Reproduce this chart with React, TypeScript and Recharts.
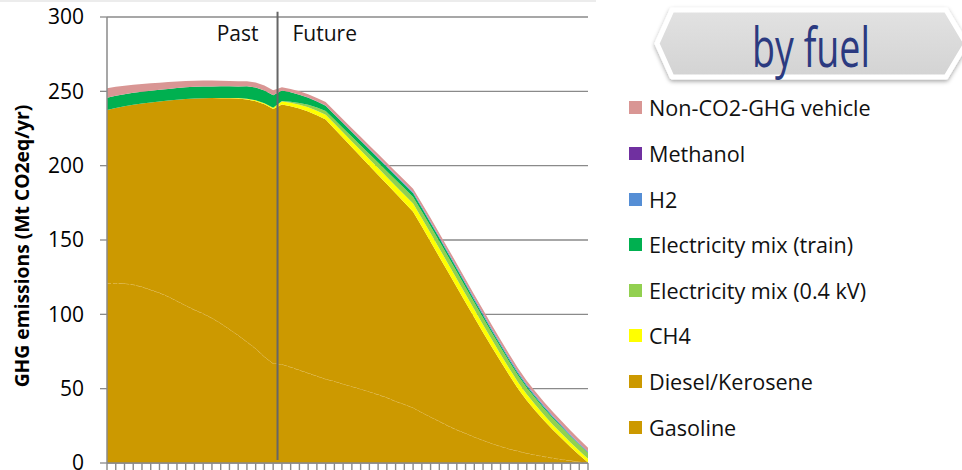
import React from "react";
import {
  AreaChart,
  Area,
  XAxis,
  YAxis,
  CartesianGrid,
  ReferenceLine,
  Legend,
} from "recharts";

const FONT = "'Open Sans', 'DejaVu Sans', sans-serif";
const AXIS_GREY = "#8a8a8a";

const years = [
  1990, 1991, 1992, 1993, 1994, 1995, 1996, 1997, 1998, 1999,
  2000, 2001, 2002, 2003, 2004, 2005, 2006, 2007, 2008, 2009,
  2010, 2011, 2012, 2013, 2014, 2015, 2016, 2017, 2018, 2019,
  2020, 2021, 2022, 2023, 2024, 2025, 2026, 2027, 2028, 2029,
  2030, 2031, 2032, 2033, 2034, 2035, 2036, 2037, 2038, 2039,
  2040, 2041, 2042, 2043, 2044, 2045,
];

const yTicks = [0, 50, 100, 150, 200, 250, 300];

// Mt CO2eq/yr per fuel, stacked bottom to top
const gasoline = [
  121, 121, 120.8, 120, 118.5, 116.5, 114.5, 112, 109, 106,
  103, 100.5, 97.5, 94, 90, 86, 81.5, 77, 71.5, 67,
  66.5, 64.5, 62.5, 60.5, 58.5, 56.5, 55, 53.2, 51.5, 49.8,
  48, 46, 44, 41.5, 39.5, 37.2, 34, 31, 28, 25,
  22.3, 20, 17.5, 15.3, 13.2, 11.2, 9.5, 8, 6.6, 5.4,
  4.3, 3.3, 2.4, 1.6, 0.8, 0.2,
];

const diesel = [
  116.4, 117.8, 119.2, 121.0, 123.3, 126.0, 128.7, 131.8, 135.4, 138.9,
  142.2, 144.9, 148.0, 151.4, 155.3, 159.1, 163.0, 166.4, 169.8, 171.2,
  174.7, 175.5, 175.9, 175.9, 175.4, 174.5, 169.8, 165.4, 160.9, 156.4,
  152.0, 147.8, 143.6, 139.9, 135.7, 131.8, 125.0, 117.8, 110.6, 103.4,
  95.9, 88.0, 80.3, 72.5, 64.8, 57.2, 49.5, 42.0, 35.4, 29.6,
  24.1, 18.9, 14.0, 9.2, 4.6, 0.1,
];

const ch4 = [
  0, 0, 0, 0, 0, 0, 0, 0, 0, 0,
  0, 0, 0, 0.2, 0.3, 0.4, 0.5, 0.6, 0.7, 0.8,
  2.0, 2.3, 2.6, 2.9, 3.1, 3.3, 3.5, 3.7, 3.9, 4.1,
  4.3, 4.6, 4.8, 5.0, 5.3, 5.5, 5.6, 5.7, 5.7, 5.7,
  5.6, 5.5, 5.4, 5.2, 5.0, 4.8, 4.6, 4.4, 4.2, 4.0,
  3.7, 3.4, 3.2, 3.0, 2.8, 2.5,
];

const elecLowVoltage = [
  0, 0, 0, 0, 0, 0, 0, 0, 0, 0,
  0, 0, 0, 0, 0, 0, 0, 0, 0, 0,
  0.3, 0.7, 1.2, 1.7, 2.1, 2.5, 2.7, 2.9, 3.1, 3.3,
  3.5, 3.7, 3.9, 4.1, 4.3, 4.5, 4.6, 4.7, 4.8, 4.8,
  4.8, 4.8, 4.7, 4.7, 4.6, 4.6, 4.5, 4.5, 4.4, 4.4,
  4.3, 4.3, 4.2, 4.1, 4.0, 4.0,
];

const elecTrain = [
  8.3, 8.2, 8.1, 8.0, 7.9, 7.9, 7.8, 7.8, 7.8, 7.8,
  7.8, 7.8, 7.8, 7.8, 7.8, 7.8, 8.4, 8.6, 8.6, 8.4,
  7.0, 6.3, 5.5, 4.7, 4.0, 3.5, 3.4, 3.3, 3.2, 3.1,
  3.0, 2.9, 2.8, 2.7, 2.6, 2.5, 2.4, 2.3, 2.2, 2.1,
  2.0, 1.9, 1.8, 1.7, 1.6, 1.5, 1.4, 1.3, 1.2, 1.0,
  0.9, 0.8, 0.7, 0.5, 0.4, 0.3,
];

const h2 = [
  0, 0, 0, 0, 0, 0, 0, 0, 0, 0,
  0, 0, 0, 0, 0, 0, 0, 0, 0, 0,
  0, 0, 0, 0.05, 0.1, 0.15, 0.2, 0.25, 0.3, 0.35,
  0.4, 0.45, 0.5, 0.55, 0.6, 0.65, 0.7, 0.75, 0.8, 0.85,
  0.9, 0.9, 0.95, 0.95, 1.0, 1.0, 1.0, 0.95, 0.9, 0.85,
  0.8, 0.75, 0.7, 0.6, 0.5, 0.4,
];

const methanol = [
  0, 0, 0, 0, 0, 0, 0, 0, 0, 0,
  0, 0, 0, 0, 0, 0, 0, 0, 0, 0,
  0.05, 0.05, 0.05, 0.05, 0.05, 0.05, 0.05, 0.05, 0.05, 0.05,
  0.1, 0.1, 0.1, 0.1, 0.1, 0.1, 0.1, 0.1, 0.1, 0.1,
  0.15, 0.15, 0.15, 0.15, 0.15, 0.15, 0.15, 0.15, 0.15, 0.15,
  0.2, 0.2, 0.2, 0.2, 0.2, 0.2,
];

const nonCo2Vehicle = [
  6.3, 6.0, 5.7, 5.4, 5.2, 5.0, 4.8, 4.6, 4.4, 4.3,
  4.2, 4.1, 4.0, 3.8, 3.6, 3.4, 3.3, 3.3, 3.3, 3.3,
  2.2, 2.3, 2.3, 2.3, 2.3, 2.3, 2.3, 2.3, 2.3, 2.3,
  2.3, 2.3, 2.3, 2.3, 2.3, 2.3, 2.4, 2.4, 2.4, 2.4,
  2.4, 2.4, 2.4, 2.5, 2.5, 2.5, 2.5, 2.5, 2.5, 2.5,
  2.6, 2.6, 2.6, 2.6, 2.6, 2.6,
];

const SERIES = [
  { key: "gasoline", name: "Gasoline", color: "#CC9900" },
  { key: "diesel", name: "Diesel/Kerosene", color: "#CC9900" },
  { key: "ch4", name: "CH4", color: "#FFFF00" },
  { key: "elecLow", name: "Electricity mix (0.4 kV)", color: "#92D050" },
  { key: "elecTrain", name: "Electricity mix (train)", color: "#00B050" },
  { key: "h2", name: "H2", color: "#558ED5" },
  { key: "methanol", name: "Methanol", color: "#7030A0" },
  { key: "nonCo2", name: "Non-CO2-GHG vehicle", color: "#D99694" },
];

const data = years.map((year, i) => ({
  year,
  gasoline: gasoline[i],
  diesel: diesel[i],
  ch4: ch4[i],
  elecLow: elecLowVoltage[i],
  elecTrain: elecTrain[i],
  h2: h2[i],
  methanol: methanol[i],
  nonCo2: nonCo2Vehicle[i],
}));

function FuelLegend() {
  return (
    <div style={{ fontFamily: FONT, fontSize: 21.6, color: "#111" }}>
      {[...SERIES].reverse().map((s) => (
        <div
          key={s.key}
          style={{ display: "flex", alignItems: "center", height: 45.6 }}
        >
          <span
            style={{
              display: "inline-block",
              width: 13,
              height: 13,
              background: s.color,
              marginRight: 7,
            }}
          />
          <span>{s.name}</span>
        </div>
      ))}
    </div>
  );
}

function Banner() {
  return (
    <svg
      width={330}
      height={100}
      style={{ position: "absolute", left: 632, top: 0 }}
    >
      <defs>
        <linearGradient id="bannerFill" x1="0" y1="0" x2="0" y2="1">
          <stop offset="0%" stopColor="#E2E2E2" />
          <stop offset="100%" stopColor="#D3D3D3" />
        </linearGradient>
        <filter id="bannerShadow" x="-10%" y="-20%" width="120%" height="150%">
          <feDropShadow dx="0" dy="2" stdDeviation="2.2" floodColor="#000" floodOpacity="0.35" />
        </filter>
      </defs>
      <polygon
        points="25,43.5 40,10 314,10 334,43.5 314,77 40,77"
        fill="url(#bannerFill)"
        stroke="#fff"
        strokeWidth={5}
        strokeLinejoin="round"
        filter="url(#bannerShadow)"
      />
      <text
        x={120}
        y={66.5}
        fontFamily={FONT}
        fontSize={54}
        fill="#2B3A80"
        textLength={118}
        lengthAdjust="spacingAndGlyphs"
      >
        by fuel
      </text>
    </svg>
  );
}

export default function App() {
  return (
    <div
      style={{
        position: "fixed",
        left: 0,
        top: 0,
        width: 962,
        height: 470,
        background: "#fff",
        overflow: "hidden",
      }}
    >
      <div
        style={{
          position: "absolute",
          left: 0,
          top: 0,
          width: 596,
          height: 2,
          background: "#ececec",
        }}
      />
      <AreaChart
        width={962}
        height={490}
        data={data}
        margin={{ top: 17, right: 374, bottom: 0, left: 0 }}
      >
        <CartesianGrid
          vertical={false}
          stroke={AXIS_GREY}
          strokeWidth={1.3}
        />
        <YAxis
          width={107}
          domain={[0, 300]}
          ticks={yTicks}
          interval={0}
          tickSize={7}
          tickMargin={16}
          axisLine={{ stroke: AXIS_GREY, strokeWidth: 1.5 }}
          tickLine={{ stroke: AXIS_GREY, strokeWidth: 1.3 }}
          tick={{ fontFamily: FONT, fontSize: 21, fill: "#000" }}
          label={() => (
            <text
              transform="rotate(-90)"
              x={-246}
              y={21}
              textAnchor="middle"
              dominantBaseline="central"
              fontFamily={FONT}
              fontSize={19.3}
              fontWeight="bold"
              fill="#000"
            >
              GHG emissions (Mt CO2eq/yr)
            </text>
          )}
        />
        {SERIES.map((s) => (
          <Area
            key={s.key}
            type="linear"
            dataKey={s.key}
            name={s.name}
            stackId="fuel"
            fill={s.color}
            fillOpacity={1}
            stroke={s.key === "gasoline" ? "#E6C46C" : "none"}
            strokeWidth={s.key === "gasoline" ? 1 : 0}
            strokeDasharray={s.key === "gasoline" ? "4 2" : undefined}
            isAnimationActive={false}
            activeDot={false}
          />
        ))}
        {/* year ticks carry no text, only short marks below the axis */}
        <XAxis
          type="number"
          dataKey="year"
          domain={[1990, 2045]}
          ticks={years}
          interval={0}
          tickFormatter={() => ""}
          tickSize={7}
          height={27}
          axisLine={{ stroke: AXIS_GREY, strokeWidth: 1.5 }}
          tickLine={{ stroke: AXIS_GREY, strokeWidth: 1.4 }}
        />
        <ReferenceLine
          segment={[
            { x: 2009.5, y: 2 },
            { x: 2009.5, y: 303.5 },
          ]}
          ifOverflow="visible"
          stroke="#666"
          strokeWidth={2}
          label={(props: any) => {
            const x = props.viewBox?.x ?? 277;
            return (
              <g fontFamily={FONT} fontSize={21} fill="#111">
                <text x={x - 19} y={41} textAnchor="end">
                  Past
                </text>
                <text x={x + 15} y={41}>
                  Future
                </text>
              </g>
            );
          }}
        />
        <Legend
          layout="vertical"
          align="center"
          verticalAlign="middle"
          wrapperStyle={{ left: 629, top: 85.2, width: 330 }}
          content={() => <FuelLegend />}
        />
      </AreaChart>
      <Banner />
    </div>
  );
}
